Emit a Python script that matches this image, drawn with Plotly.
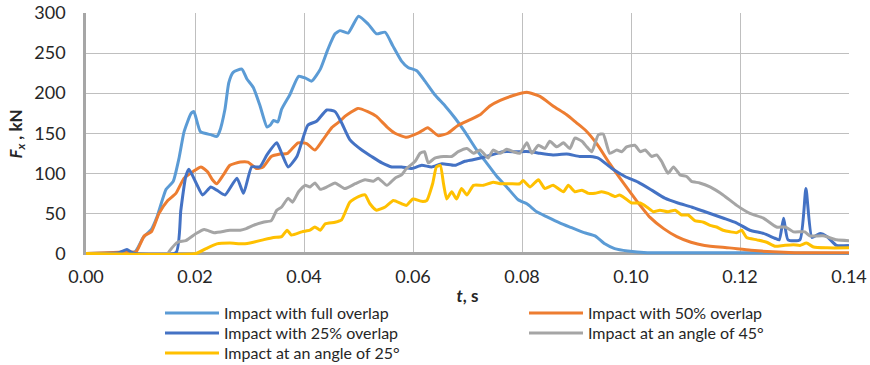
import plotly.graph_objects as go

# ---- data (t in s, F in kN) ----
t_full = [0, 0.006, 0.009, 0.0105, 0.012, 0.013, 0.0147, 0.016, 0.0171, 0.018,
          0.0193, 0.0198, 0.021, 0.023, 0.024, 0.0245, 0.0255, 0.0262, 0.027, 0.0286,
          0.0295, 0.0307, 0.0319, 0.0332, 0.0338, 0.0344, 0.0352, 0.0359, 0.0374, 0.039,
          0.0402, 0.0414, 0.043, 0.0444, 0.0457, 0.0466, 0.0481, 0.05, 0.0518, 0.0533,
          0.0549, 0.0563, 0.0579, 0.0591, 0.0607, 0.0622, 0.064, 0.0659, 0.0677, 0.0695,
          0.0717, 0.0735, 0.0754, 0.0772, 0.0793, 0.0809, 0.0827, 0.0845, 0.087, 0.0888,
          0.0914, 0.0934, 0.0952, 0.097, 0.0994, 0.103, 0.12, 0.14]
F_full = [0, 1, 2, 20, 30, 45, 80, 90, 120, 152,
          175, 177, 152, 148, 146, 152, 180, 213, 226, 230,
          218, 207, 185, 158, 160, 166, 164, 180, 198, 221,
          219, 215, 230, 255, 274, 278, 275, 296, 286, 274,
          276, 259, 240, 232, 228, 215, 198, 184, 169, 152,
          129, 113, 96, 83, 67, 62, 52, 46, 38, 33,
          26, 22, 12, 6, 3, 1, 1, 0]

t_50 = [0, 0.004, 0.008, 0.0092, 0.0107, 0.012, 0.0134, 0.015, 0.0165, 0.018,
        0.0196, 0.0211, 0.0223, 0.0232, 0.024, 0.0252, 0.0264, 0.0283, 0.0297, 0.0313,
        0.0325, 0.034, 0.0356, 0.037, 0.0389, 0.0405, 0.042, 0.0435, 0.0451, 0.0466,
        0.0475, 0.0499, 0.0517, 0.0533, 0.0552, 0.0567, 0.0588, 0.0609, 0.0627, 0.0646,
        0.0664, 0.0683, 0.0705, 0.0723, 0.0741, 0.076, 0.0784, 0.0809, 0.0833, 0.0857,
        0.0882, 0.09, 0.0916, 0.0937, 0.0961, 0.0986, 0.101, 0.1035, 0.106, 0.1084,
        0.111, 0.1135, 0.118, 0.122, 0.126, 0.13, 0.14]
F_50 = [0, 1, 2, 2, 22, 27, 50, 66, 75, 94,
        102, 108, 102, 92, 87, 98, 110, 114, 114, 106,
        108, 121, 124, 125, 138, 137, 129, 142, 157, 165,
        171, 181, 177, 171, 158, 150, 145, 150, 157, 147,
        150, 160, 167, 173, 184, 191, 197, 201, 196, 184,
        173, 163, 154, 137, 112, 88, 66, 45, 31, 21,
        14, 10, 7, 4, 2, 1, 1]

t_25 = [0, 0.006, 0.0075, 0.0082, 0.009, 0.0165, 0.0174, 0.0183, 0.0189, 0.0202,
        0.0214, 0.0229, 0.024, 0.0255, 0.0277, 0.0289, 0.0304, 0.0319, 0.0332, 0.035,
        0.0359, 0.0371, 0.0387, 0.0407, 0.0423, 0.0442, 0.0457, 0.0469, 0.0484, 0.0506,
        0.0524, 0.0543, 0.0561, 0.0579, 0.0598, 0.0616, 0.0634, 0.0653, 0.0677, 0.0695,
        0.071, 0.0735, 0.0765, 0.0789, 0.0815, 0.0833, 0.0857, 0.0882, 0.0906, 0.0925,
        0.094, 0.0965, 0.0989, 0.1013, 0.1038, 0.1062, 0.1086, 0.1111, 0.1136, 0.117,
        0.1194, 0.1218, 0.1243, 0.1264, 0.1272, 0.128, 0.1288, 0.131, 0.1321, 0.1332,
        0.1347, 0.136, 0.1377, 0.14]
F_25 = [0, 1, 5, 2, 0, 1, 54, 96, 105, 88,
        73, 83, 79, 73, 94, 75, 108, 108, 123, 138,
        125, 108, 121, 160, 165, 179, 177, 163, 142, 129,
        121, 113, 108, 108, 106, 110, 108, 112, 110, 115,
        117, 121, 127, 127, 127, 125, 123, 124, 121, 121,
        119, 106, 96, 89, 79, 69, 63, 58, 52, 44,
        38, 29, 25, 19, 17, 44, 17, 17, 81, 20,
        25, 21, 10, 10]

t_45 = [0, 0.015, 0.0153, 0.0168, 0.0183, 0.0202, 0.0217, 0.0235, 0.0264, 0.0283,
        0.0294, 0.0307, 0.0325, 0.034, 0.035, 0.0359, 0.0371, 0.0379, 0.039, 0.0402,
        0.0411, 0.042, 0.043, 0.0442, 0.0457, 0.0475, 0.0494, 0.0512, 0.0527, 0.0536,
        0.0552, 0.0567, 0.0579, 0.0588, 0.0604, 0.0613, 0.0621, 0.0628, 0.064, 0.0656,
        0.0671, 0.0683, 0.0699, 0.0711, 0.0723, 0.0732, 0.0738, 0.0747, 0.076, 0.0772,
        0.0784, 0.0796, 0.0809, 0.0818, 0.083, 0.0842, 0.0851, 0.0864, 0.0876, 0.0888,
        0.0897, 0.091, 0.0919, 0.0928, 0.094, 0.0949, 0.0961, 0.0974, 0.0983, 0.0992,
        0.1007, 0.1017, 0.1026, 0.1038, 0.1047, 0.1056, 0.1068, 0.1078, 0.109, 0.1102,
        0.1111, 0.1126, 0.1145, 0.1169, 0.1194, 0.1218, 0.1243, 0.1267, 0.1283, 0.1298,
        0.1319, 0.1328, 0.1353, 0.1377, 0.14]
F_45 = [0, 0, 3, 14, 16, 25, 30, 26, 29, 29,
        31, 35, 39, 41, 54, 58, 69, 64, 77, 85,
        83, 88, 80, 83, 88, 81, 87, 92, 90, 94,
        85, 94, 98, 106, 115, 125, 127, 113, 119, 121,
        121, 127, 131, 125, 129, 123, 119, 129, 125, 130,
        127, 125, 138, 125, 135, 131, 140, 133, 138, 131,
        144, 140, 133, 127, 148, 149, 125, 129, 127, 133,
        135, 127, 129, 121, 123, 115, 100, 108, 98, 96,
        90, 88, 83, 73, 60, 50, 44, 33, 33, 27,
        27, 22, 22, 17, 16]

t_a25 = [0, 0.0202, 0.022, 0.024, 0.0264, 0.0289, 0.0307, 0.0325, 0.0344, 0.0359,
         0.0369, 0.0377, 0.0396, 0.0411, 0.042, 0.043, 0.0439, 0.0457, 0.0469, 0.0484,
         0.05, 0.0512, 0.0521, 0.0533, 0.0549, 0.0564, 0.0579, 0.0588, 0.06, 0.0616,
         0.0625, 0.0636, 0.0643, 0.065, 0.0656, 0.0662, 0.0671, 0.068, 0.0689, 0.0699,
         0.0711, 0.0729, 0.0747, 0.076, 0.0778, 0.0796, 0.0802, 0.0815, 0.083, 0.0842,
         0.0857, 0.0876, 0.0885, 0.0897, 0.091, 0.0922, 0.0934, 0.0946, 0.0958, 0.0971,
         0.0979, 0.0989, 0.1001, 0.1017, 0.1029, 0.1041, 0.1053, 0.1068, 0.1081, 0.1093,
         0.1105, 0.1117, 0.1133, 0.1145, 0.1157, 0.1169, 0.1182, 0.1194, 0.1203, 0.1212,
         0.1231, 0.1249, 0.1264, 0.128, 0.1298, 0.131, 0.1322, 0.1335, 0.136, 0.14]
F_a25 = [0, 0, 6, 12, 13, 12, 14, 17, 20, 21,
         29, 23, 27, 29, 33, 29, 37, 39, 42, 64,
         71, 73, 62, 54, 58, 66, 62, 60, 68, 65,
         66, 87, 108, 110, 87, 68, 77, 68, 81, 73,
         85, 85, 89, 87, 87, 87, 91, 83, 92, 81,
         85, 77, 85, 77, 79, 75, 75, 77, 75, 71,
         73, 69, 63, 63, 58, 52, 54, 52, 54, 48,
         48, 41, 39, 35, 33, 29, 27, 26, 29, 20,
         17, 14, 9, 10, 11, 10, 13, 8, 7, 7]

series_names = ["Impact with full overlap", "Impact with 50% overlap",
                "Impact with 25% overlap", "Impact at an angle of 45°",
                "Impact at an angle of 25°"]
series_t = [t_full, t_50, t_25, t_45, t_a25]
series_F = [F_full, F_50, F_25, F_45, F_a25]
series_colors = ["#5B9BD5", "#ED7D31", "#4472C4", "#A5A5A5", "#FFC000"]

FONT = "Lato, 'Open Sans', sans-serif"
TXT = "#262626"

# legend slots: (column x in paper units, row y in paper units)
W, H, ML, MT = 870, 365, 86, 13
MB = 110
plot_w = W - ML - 21
plot_h = H - MT - MB
col_px = [160, 524]
row_px = [313, 333, 353]
slots = [(0, 0), (1, 0), (0, 1), (1, 1), (0, 2)]

fig = go.Figure()
legend_layout = {}
for i, (name, t, F, c) in enumerate(zip(series_names, series_t, series_F, series_colors)):
    key = "legend" if i == 0 else f"legend{i + 1}"
    fig.add_trace(go.Scatter(x=t, y=F, mode="lines", name=name, legend=key,
                             line=dict(color=c, width=3, shape="spline", smoothing=0.5)))
    cx, ry = slots[i]
    legend_layout[key] = dict(
        x=(col_px[cx] - ML) / plot_w, xanchor="left",
        y=-(row_px[ry] - (MT + plot_h)) / plot_h, yanchor="middle",
        orientation="h", itemwidth=54,
        font=dict(size=16, family=FONT, color=TXT),
        bgcolor="rgba(0,0,0,0)", borderwidth=0)

fig.update_layout(
    width=W, height=H,
    margin=dict(l=ML, r=21, t=MT, b=MB, autoexpand=False),
    paper_bgcolor="white", plot_bgcolor="white",
    font=dict(family=FONT, color=TXT),
    showlegend=True,
    xaxis=dict(range=[0, 0.14], dtick=0.02, tick0=0, tickformat=".2f",
               showgrid=True, gridcolor="#BFBFBF", gridwidth=1.3,
               showline=False, zeroline=False, ticks="", ticklabelstandoff=9,
               tickfont=dict(size=18, family=FONT, color=TXT),
               title=dict(text="<b><i>t</i>, s</b>", font=dict(size=17, family=FONT, color=TXT),
                          standoff=4)),
    yaxis=dict(range=[-1.9, 300], dtick=50, tick0=0,
               showgrid=True, gridcolor="#BFBFBF", gridwidth=1.3,
               zeroline=True, zerolinecolor="#A6A6A6", zerolinewidth=2.5,
               showline=True, linecolor="#A6A6A6", linewidth=2.5,
               ticks="", ticklabelstandoff=14,
               tickfont=dict(size=18, family=FONT, color=TXT),
               title=dict(text="<b><i>F</i><sub><i>x</i></sub> , kN</b>",
                          font=dict(size=17, family=FONT, color=TXT), standoff=8)),
    **legend_layout,
)

fig.write_html("out.html", config={"displayModeBar": False},
               post_script="document.body.style.margin='0';")
